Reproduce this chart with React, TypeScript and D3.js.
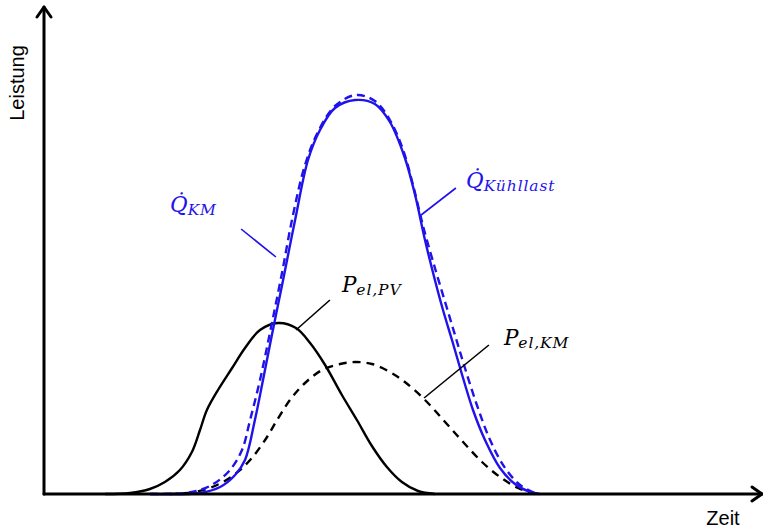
import React from "react";
import * as d3 from "d3";

// Zeit in Stunden, Leistung in Prozent der Spitzenlast
const qKmTime = [3.53, 5.2, 5.87, 6.37, 6.7, 7.03, 7.3, 7.63, 7.97, 8.37, 8.8, 9.2, 9.7, 10.37, 11.03, 11.53, 12.03, 12.37, 12.7, 13.03, 13.3, 13.6, 13.87, 14.3, 14.7, 15.2, 15.7, 16.2, 16.53];
const qKmValue = [0, 0.25, 1.75, 4.75, 8.5, 18.5, 28.5, 41, 53.5, 68.5, 83.5, 91, 96.5, 98.5, 97.5, 93, 84, 74.75, 63.5, 53.5, 46, 38.5, 31.5, 21, 13.5, 6.5, 2.5, 0.5, 0];

const qLastTime = [3.53, 4.7, 5.2, 5.7, 6.2, 6.6, 6.87, 7.2, 7.55, 7.92, 8.3, 8.7, 9.13, 9.7, 10.4, 11.03, 11.53, 11.97, 12.3, 12.67, 13.07, 13.4, 13.7, 14.0, 14.43, 14.87, 15.37, 15.87, 16.43];
const qLastValue = [0, 0.25, 1, 2.75, 6, 11, 18.5, 28.5, 41, 54.75, 69.75, 82.25, 90.5, 97, 99.75, 98.25, 93.5, 86, 77.25, 66, 55.5, 47.25, 39.75, 32.25, 22.25, 13.5, 6.5, 2.25, 0];

const pPvTime = [2.03, 2.87, 3.53, 4.03, 4.53, 4.93, 5.2, 5.43, 5.8, 6.27, 6.7, 7.2, 7.8, 8.4, 8.87, 9.37, 9.93, 10.43, 10.93, 11.43, 11.93, 12.47, 13.03];
const pPvValue = [0, 0.25, 1.25, 3, 6, 10.5, 16, 21, 26, 31.5, 36.5, 41, 42.75, 41.5, 37.75, 32.25, 24.75, 18.5, 12, 6.75, 3, 0.75, 0];

const pKmTime = [4.2, 5.03, 5.77, 6.37, 6.87, 7.37, 7.77, 8.2, 8.7, 9.27, 9.87, 10.37, 10.93, 11.53, 12.03, 12.7, 13.37, 13.97, 14.6, 15.2, 15.8, 16.37];
const pKmValue = [0, 0.5, 2.25, 5, 8.5, 13.5, 18.5, 23.5, 27.75, 31, 32.5, 33, 32.5, 30.5, 28, 23.5, 18, 13, 8, 4.25, 1.5, 0];

// Beschriftungen: Haupttext, Index, Ankerpunkt und Hinweislinie (Start, Ende)
const labelMain = ["Q\u0307", "Q\u0307", "P", "P"];
const labelSub = ["KM", "Kühllast", "el,PV", "el,KM"];
const labelAt: [number, number][] = [[4.2, 70.5], [14.07, 76.5], [9.93, 50.5], [15.33, 37.25]];
const leaderFrom: [number, number][] = [[6.57, 66.25], [13.73, 76.5], [9.53, 48.5], [14.83, 37.25]];
const leaderTo: [number, number][] = [[7.73, 59.25], [12.57, 69.75], [8.4, 41], [12.67, 24]];
const BLUE = "#1f12ea";
const labelColor = [BLUE, BLUE, "#000", "#000"];

const W = 763;
const H = 529;

export default function App() {
  const x = d3.scaleLinear().domain([0, 24]).range([44, 764]);
  const y = d3.scaleLinear().domain([0, 100]).range([494, 94]);

  const line = d3
    .line<[number, number]>()
    .x((d) => x(d[0]))
    .y((d) => y(d[1]))
    .curve(d3.curveCatmullRom.alpha(0.5));

  const zip = (t: number[], v: number[]) => t.map((ti, i) => [ti, v[i]] as [number, number]);

  const x0 = x(0);
  const y0 = y(0);

  return (
    <svg
      width={W}
      height={H}
      viewBox={`0 0 ${W} ${H}`}
      style={{ position: "absolute", left: 0, top: 0, display: "block", background: "#fff" }}
    >
      {/* Kurven */}
      <path d={line(zip(pKmTime, pKmValue)) ?? ""} fill="none" stroke="#000" strokeWidth={2.4} strokeDasharray="8 6" />
      <path d={line(zip(pPvTime, pPvValue)) ?? ""} fill="none" stroke="#000" strokeWidth={2.4} />
      <path d={line(zip(qLastTime, qLastValue)) ?? ""} fill="none" stroke={BLUE} strokeWidth={2.4} strokeDasharray="8 5" />
      <path d={line(zip(qKmTime, qKmValue)) ?? ""} fill="none" stroke={BLUE} strokeWidth={2.4} />

      {/* Achsen mit Pfeilspitzen */}
      <g stroke="#000" strokeWidth={3} fill="none" strokeLinecap="round" strokeLinejoin="round">
        <line x1={x0} y1={y0} x2={762} y2={y0} />
        <polyline points={`752,${y0 - 7} 762,${y0} 752,${y0 + 7}`} />
        <line x1={x0} y1={y0} x2={x0} y2={7} />
        <polyline points={`${x0 - 7},17 ${x0},7 ${x0 + 7},17`} />
      </g>

      <text
        transform={`translate(24,83) rotate(-90)`}
        textAnchor="middle"
        fontFamily="'Liberation Sans', Arial, sans-serif"
        fontSize={20}
        fill="#000"
      >
        Leistung
      </text>
      <text x={723} y={525} textAnchor="middle" fontFamily="'Liberation Sans', Arial, sans-serif" fontSize={20} fill="#000">
        Zeit
      </text>

      {/* Hinweislinien und Formelzeichen */}
      {labelMain.map((m, i) => (
        <g key={i}>
          <line
            x1={x(leaderFrom[i][0])}
            y1={y(leaderFrom[i][1])}
            x2={x(leaderTo[i][0])}
            y2={y(leaderTo[i][1])}
            stroke={labelColor[i]}
            strokeWidth={1.6}
          />
          <text
            x={x(labelAt[i][0])}
            y={y(labelAt[i][1])}
            fontFamily="'DejaVu Serif', serif"
            fontStyle="italic"
            fill={labelColor[i]}
          >
            <tspan fontSize={21.5}>{m}</tspan>
            <tspan fontSize={15.5} dy={3} letterSpacing={0.9}>
              {labelSub[i]}
            </tspan>
          </text>
        </g>
      ))}
    </svg>
  );
}
